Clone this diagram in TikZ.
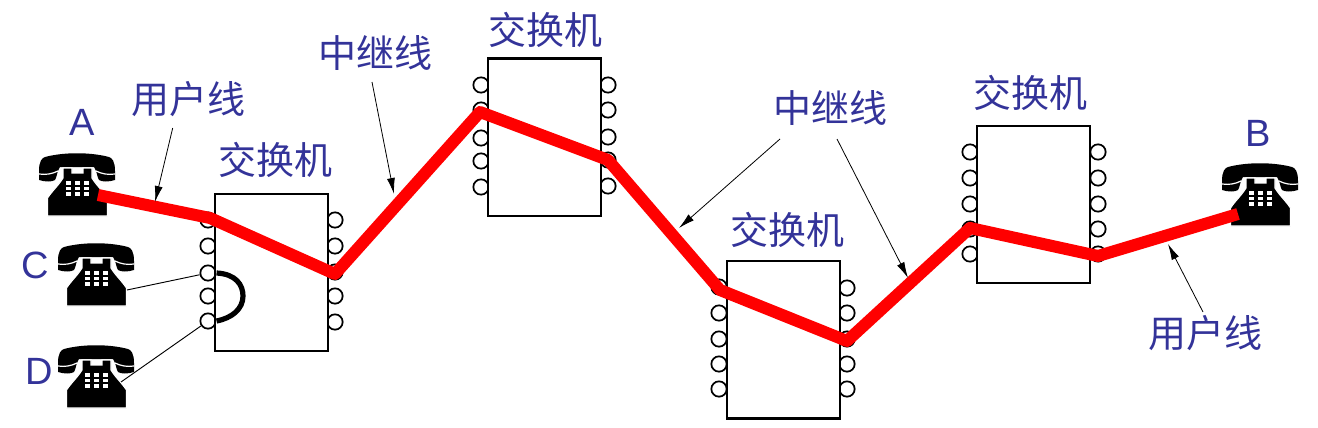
\documentclass[tikz,border=0pt]{standalone}
\usepackage{fontspec}
\setmainfont{Liberation Sans}
\newfontfamily\cjk{Noto Sans CJK SC}
\usetikzlibrary{arrows.meta}
\definecolor{labelblue}{RGB}{51,51,153}
\definecolor{trunkred}{RGB}{255,0,0}
\tikzset{
  x=0.75pt,y=-0.75pt,
  lbl/.style={text=labelblue,font=\fontsize{28.5}{30}\selectfont,inner sep=0pt},
  cjklbl/.style={text=labelblue,font=\cjk\fontsize{28.5}{30}\selectfont,inner sep=0pt},
  switchbox/.style={draw=black,line width=1.7pt,fill=white,minimum width=85pt,minimum height=118pt,inner sep=0pt},
  port/.style={circle,draw=black,line width=1.3pt,fill=white,minimum size=11.5pt,inner sep=0pt},
  redline/.style={draw=trunkred,line width=9pt,line join=round},
  pointer/.style={draw=black,line width=0.6pt,-{Latex[length=12pt,width=6pt]}},
  thinline/.style={draw=black,line width=0.7pt},
  telephone/.pic={
    \fill[black] (0,18) .. controls (0,8) and (3,5) .. (6,4) .. controls (25,-1) and (51,-1) .. (70,4)
      .. controls (73,5) and (76,8) .. (76,18) -- (76,27) .. controls (70,29) and (63,29) .. (60,27)
      .. controls (58,24) and (58,18) .. (55,14) -- (21,14) .. controls (18,18) and (18,24) .. (16,27)
      .. controls (13,29) and (6,29) .. (0,27) -- cycle;
    \draw[white,line width=0.9pt] (0,21) .. controls (7,22) and (13,21) .. (19,18);
    \draw[white,line width=0.9pt] (76,21) .. controls (69,22) and (63,21) .. (57,18);
    \draw[white,line width=0.9pt,fill=black] (24,15) -- (33,15) -- (33,20) -- (44,20) -- (44,15) -- (53,15) -- (53,25)
      .. controls (58,33) and (64,38) .. (68.5,45) -- (68.5,63) -- (8.5,63) -- (8.5,45)
      .. controls (13,38) and (19,33) .. (24,25) -- cycle;
    \fill[black] (25,11) -- (52,11) -- (52,14) -- (25,14) -- cycle;
    \foreach \kx in {27,35.5,44.5}
      \foreach \ky in {28,33.5,39}
        \fill[white] (\kx,\ky) rectangle ++(5,3.6);
  }
}
\begin{document}
\begin{tikzpicture}
\useasboundingbox (0,0) rectangle (1318,428);
% telephones
\pic at (39,153) {telephone};
\pic at (58,243) {telephone};
\pic at (58,345) {telephone};
\pic at (1222,163) {telephone};
\coordinate (phA) at (98,195);
\coordinate (phB) at (1238,214);
\coordinate (phC) at (127,290);
\coordinate (phD) at (121,382);
% switches and ports
\foreach \nm/\cx/\cy/\lx/\rx/\la/\lb/\lc/\ld/\le/\ra/\rb/\rc/\rd/\re in {
  s1/271.5/272.5/208/335/220/246/273/296/321/220/246/272/296/322,
  s2/544.5/137.3/481/608/85/110/138/161/187/85/110/137/160/186,
  s3/783.5/339.7/719/847/287/313/339/364/389/288/313/339/364/389,
  s4/1033.5/204.5/970/1098/152/178/204/229/254/152/178/204/229/254}{
  \node[port] (\nm l1) at (\lx,\la) {};
  \node[port] (\nm l2) at (\lx,\lb) {};
  \node[port] (\nm l3) at (\lx,\lc) {};
  \node[port] (\nm l4) at (\lx,\ld) {};
  \node[port] (\nm l5) at (\lx,\le) {};
  \node[port] (\nm r1) at (\rx,\ra) {};
  \node[port] (\nm r2) at (\rx,\rb) {};
  \node[port] (\nm r3) at (\rx,\rc) {};
  \node[port] (\nm r4) at (\rx,\rd) {};
  \node[port] (\nm r5) at (\rx,\re) {};
  \node[switchbox] (\nm) at (\cx,\cy) {};
}
% local loop through switch 1
\draw[black,line width=3.9pt] (s1l3.east) .. controls (236,274) and (243,285) .. (243,296)
  .. controls (243,309) and (232,318) .. (s1l5.east);
\draw[thinline] (phC) -- (s1l3);
\draw[thinline] (phD) -- (s1l5);
% red path
\coordinate (r1) at (210,218);
\coordinate (r2) at (335,274);
\coordinate (r3) at (480,112);
\coordinate (r4) at (608,160);
\coordinate (r5) at (720,290);
\coordinate (r6) at (847,341);
\coordinate (r7) at (970,228);
\coordinate (r8) at (1098,256);
\draw[redline] (phA) -- (r1) -- (r2) -- (r3) -- (r4) -- (r5) -- (r6) -- (r7) -- (r8) -- (phB);
% labels
\node[lbl] (tA) at (82,122) {A};
\node[lbl] (tB) at (1258,133) {B};
\node[lbl] (tC) at (35,265) {C};
\node[lbl] (tD) at (39,371) {D};
\node[cjklbl] (u1) at (188,99) {用户线};
\node[cjklbl] (u2) at (1205,333) {用户线};
\node[cjklbl] (z1) at (375,53) {中继线};
\node[cjklbl] (z2) at (830,108) {中继线};
\node[cjklbl] (x1) at (275,160) {交换机};
\node[cjklbl] (x2) at (545,30) {交换机};
\node[cjklbl] (x3) at (787,230) {交换机};
\node[cjklbl] (x4) at (1030,93) {交换机};
% pointers
\coordinate (u1s) at (172.7,128); \coordinate (u1e) at (155,202);
\coordinate (u2s) at (1203,312); \coordinate (u2e) at (1168,244);
\coordinate (z1s) at (372,82); \coordinate (z1e) at (394,194);
\coordinate (z2s) at (780,139); \coordinate (z2e) at (679,228);
\coordinate (z3s) at (837,139); \coordinate (z3e) at (908,278);
\draw[pointer] (u1s) -- (u1e);
\draw[pointer] (u2s) -- (u2e);
\draw[pointer] (z1s) -- (z1e);
\draw[pointer] (z2s) -- (z2e);
\draw[pointer] (z3s) -- (z3e);
\end{tikzpicture}
\end{document}
